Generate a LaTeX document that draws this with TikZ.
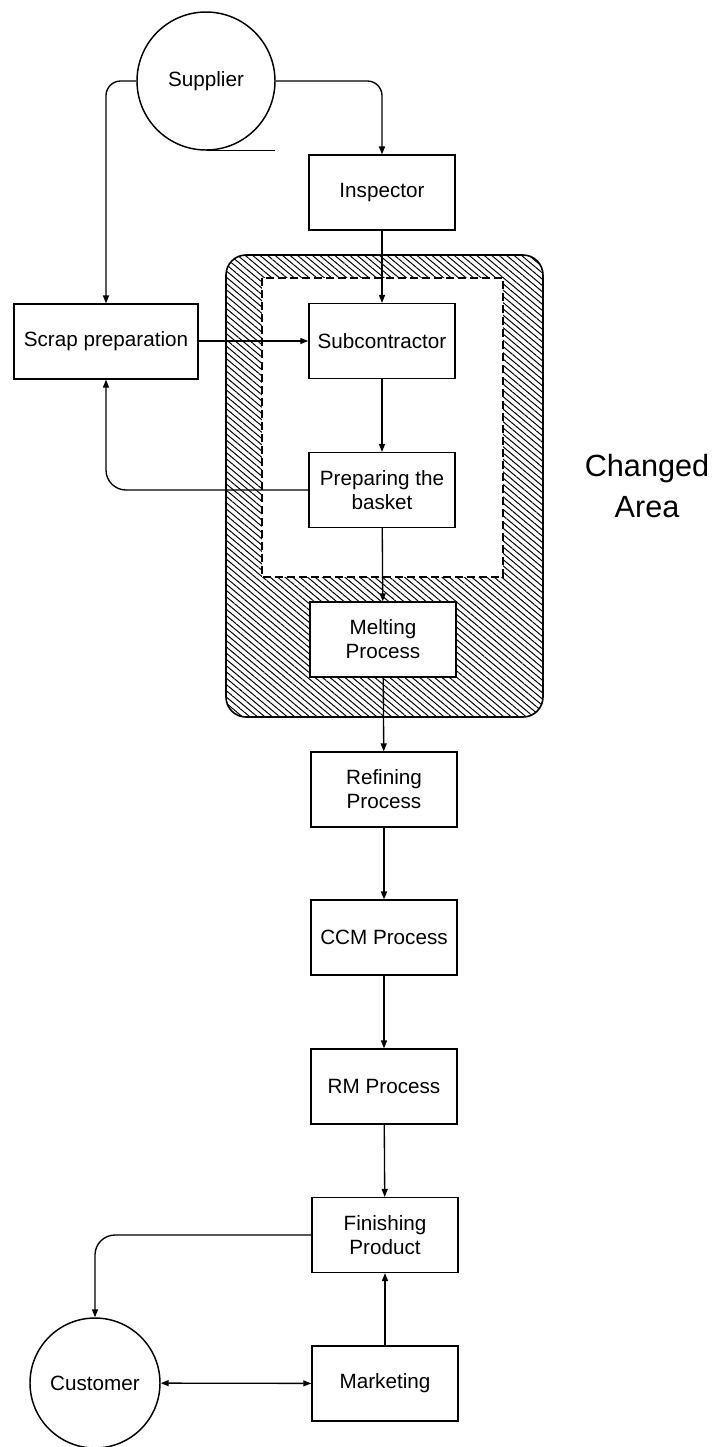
\documentclass[tikz,border=0pt]{standalone}
\usepackage{fontspec}
\setmainfont{Liberation Sans}
\usetikzlibrary{arrows.meta,patterns.meta}

\begin{document}
\begin{tikzpicture}[
    x=0.75pt, y=-0.75pt,
    procbox/.style={rectangle, draw, line width=1.1pt, fill=white,
                    minimum width=109.5pt, minimum height=56pt, inner sep=2pt,
                    align=center, font=\fontsize{15.5}{18}\selectfont},
    partycirc/.style={circle, draw, line width=1.1pt, fill=white, inner sep=0pt,
                      font=\fontsize{15.5}{18}\selectfont},
    flow/.style={line width=1pt, ->},
    hatcharea/.style={draw, line width=1.2pt, rounded corners=15pt,
                      pattern={Lines[angle=-40, distance=3.6pt, line width=0.75pt]}},
    keeparea/.style={draw, line width=1.2pt, fill=white, dash pattern=on 6pt off 3pt},
    >={Triangle[length=6pt,width=4.5pt]}
  ]
    \useasboundingbox (0,0) rectangle (716,1447);

    % --- Changed area ---
    \path[hatcharea] (226,255) rectangle (543,717);
    \path[keeparea] (262,278) rectangle (503,577);
    \node[align=center, font=\fontsize{23}{31}\selectfont] (chg) at (647,486) {Changed\\Area};

    % --- Parties ---
    \node[partycirc, minimum size=103.5pt] (sup) at (206,81) {Supplier};
    \node[partycirc, minimum size=97.5pt] (cust) at (95,1383) {Customer};
    \draw[line width=1.1pt] (sup.south) -- ++(69,0);

    % --- Process boxes ---
    \node[procbox] (insp) at (382,192.5) {Inspector};
    \node[procbox, minimum width=138pt] (scrap) at (106,341.5) {Scrap preparation};
    \node[procbox] (subc) at (382,341) {Subcontractor};
    \node[procbox] (basket) at (382,490) {Preparing the\\basket};
    \node[procbox] (melt) at (383,639.5) {Melting\\Process};
    \node[procbox] (refine) at (384,789.5) {Refining\\Process};
    \node[procbox] (ccm) at (384,937.5) {CCM Process};
    \node[procbox] (rm) at (384,1086.5) {RM Process};
    \node[procbox] (finish) at (385,1235) {Finishing\\Product};
    \node[procbox] (mkt) at (385,1383.5) {Marketing};

    % --- Flows ---
    \draw[flow, rounded corners=11pt] (sup.east) -| (insp.north);
    \draw[flow, rounded corners=11pt] (sup.west) -| (scrap.north);
    \draw[flow] (insp) -- (subc);
    \draw[flow] (scrap.east |- subc) -- (subc.west);
    \draw[flow] (subc) -- (basket);
    \draw[flow, rounded corners=15pt] (basket.west) -| (scrap.south);
    \draw[flow] (basket) -- (melt);
    \draw[flow] (melt) -- (refine);
    \draw[flow] (refine) -- (ccm);
    \draw[flow] (ccm) -- (rm);
    \draw[flow] (rm) -- (finish);
    \draw[flow, rounded corners=15pt] (finish.west) -| (cust.north);
    \draw[flow, <->] (cust) -- (mkt);
    \draw[flow] (mkt) -- (finish);
  \end{tikzpicture}
\end{document}
